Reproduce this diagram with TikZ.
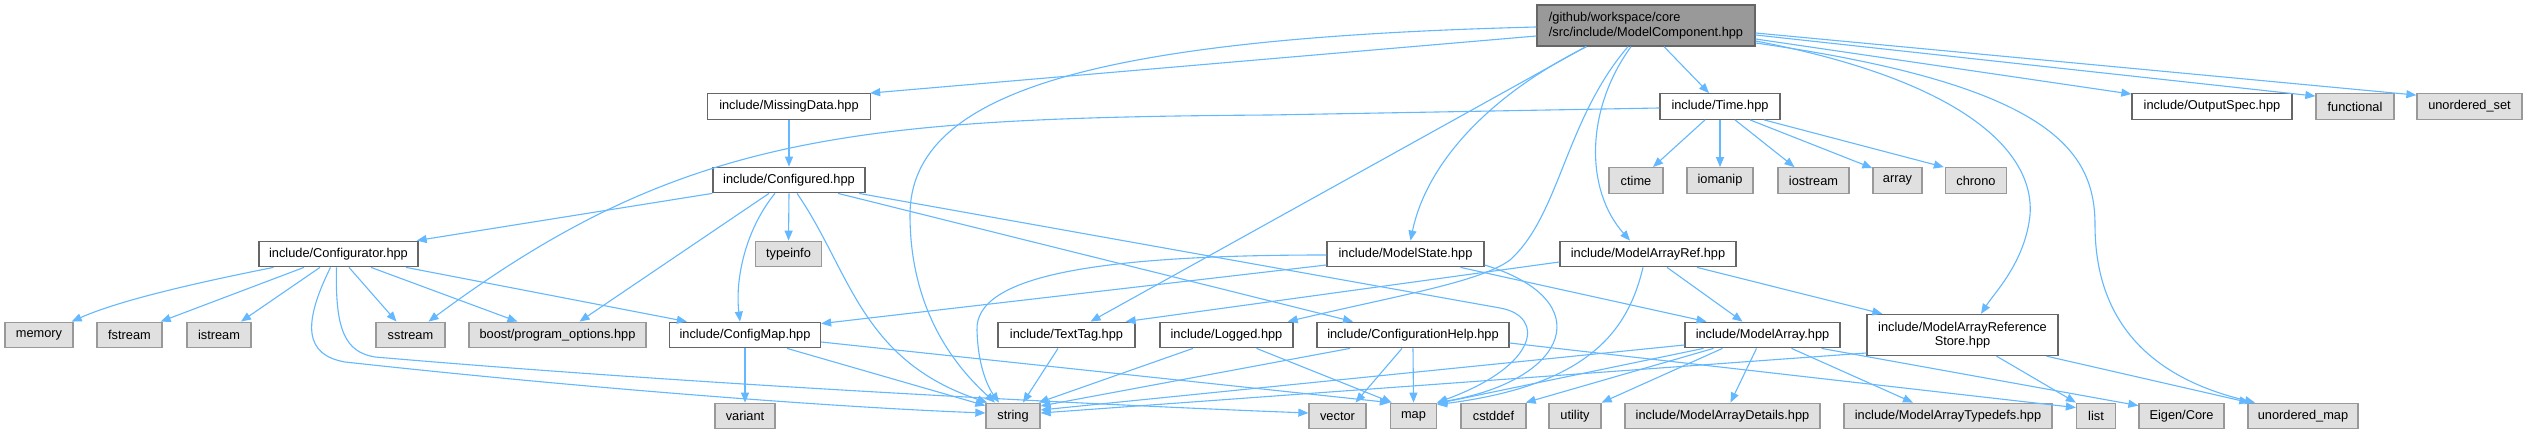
\documentclass[tikz,border=0pt]{standalone}
\usepackage{fontspec}
\newfontfamily\doxfont{Liberation Sans}
\usetikzlibrary{arrows.meta}
\definecolor{edgecol}{HTML}{63B8FF}
\definecolor{sysfill}{HTML}{E0E0E0}
\definecolor{sysborder}{HTML}{999999}
\definecolor{boxborder}{HTML}{666666}
\definecolor{rootfill}{HTML}{999999}
\begin{document}
\begin{tikzpicture}[x=1pt,y=-1pt,
  box/.style={draw=boxborder, fill=white, line width=1.3pt, minimum height=25.5pt, inner sep=0pt,
    font=\doxfont\fontsize{12.8pt}{14.5pt}\selectfont, text=black},
  sys/.style={box, draw=sysborder, fill=sysfill},
  rootbox/.style={box, fill=rootfill, minimum height=41pt, align=left},
  edge/.style={draw=edgecol, line width=1.1pt, -{Triangle[length=10pt,width=8pt]}}]
\fill[white] (0,0) rectangle (2527,435);
\useasboundingbox (0,0) rectangle (2527,435);
% row 1
\node[rootbox, minimum width=218pt] (root) at (1646,25.5) {/github/workspace/core\\/src/include/ModelComponent.hpp};
% row 2
\node[box, minimum width=163pt] (md) at (789,106.5) {include/MissingData.hpp};
\node[box, minimum width=120pt] (tm) at (1720,106.5) {include/Time.hpp};
\node[box, minimum width=160pt] (os) at (2212,106.5) {include/OutputSpec.hpp};
\node[sys, minimum width=78pt] (fn) at (2355,106.5) {functional};
\node[sys, minimum width=105pt] (us) at (2469.5,106.5) {unordered\_set};
% row 3
\node[box, minimum width=152pt] (cfd) at (789,180) {include/Configured.hpp};
\node[sys, minimum width=54pt] (ct) at (1636,180.5) {ctime};
\node[sys, minimum width=66pt] (iom) at (1720,180.5) {iomanip};
\node[sys, minimum width=71pt] (ios) at (1813.5,180.5) {iostream};
\node[sys, minimum width=49pt] (arr) at (1897.5,180.5) {array};
\node[sys, minimum width=61pt] (chr) at (1976,180.5) {chrono};
% row 4
\node[box, minimum width=159pt] (cfr) at (338.5,254) {include/Configurator.hpp};
\node[sys, minimum width=66pt] (ti) at (788.5,254) {typeinfo};
\node[box, minimum width=157pt] (ms) at (1405.5,254) {include/ModelState.hpp};
\node[box, minimum width=176pt] (mar) at (1648,254) {include/ModelArrayRef.hpp};
% row 5
\node[sys, minimum width=68pt] (mem) at (39,335) {memory};
\node[sys, minimum width=65pt] (fst) at (129.5,335) {fstream};
\node[sys, minimum width=64pt] (ist) at (219,335) {istream};
\node[sys, minimum width=69pt] (sst) at (410.5,335) {sstream};
\node[sys, minimum width=177pt] (bpo) at (557.5,335) {boost/program\_options.hpp};
\node[box, minimum width=151pt] (cm) at (745,335) {include/ConfigMap.hpp};
\node[box, minimum width=137pt] (tt) at (1066.5,335) {include/TextTag.hpp};
\node[box, minimum width=133pt] (lg) at (1226.5,335) {include/Logged.hpp};
\node[box, minimum width=192pt] (ch) at (1413,335) {include/ConfigurationHelp.hpp};
\node[box, minimum width=155pt] (ma) at (1762.5,335) {include/ModelArray.hpp};
\node[box, minimum width=191pt, minimum height=41pt, align=center] (mars) at (1962.5,335) {include/ModelArrayReference\\Store.hpp};
% row 6
\node[sys, minimum width=60pt] (var) at (745,416) {variant};
\node[sys, minimum width=54pt] (str) at (1013,416) {string};
\node[sys, minimum width=57pt] (vec) at (1337.5,416) {vector};
\node[sys, minimum width=46pt] (mp) at (1413.5,416) {map};
\node[sys, minimum width=65pt] (csd) at (1493.5,416) {cstddef};
\node[sys, minimum width=52pt] (utl) at (1575,416) {utility};
\node[sys, minimum width=195pt] (mad) at (1722.5,416) {include/ModelArrayDetails.hpp};
\node[sys, minimum width=208pt] (mat) at (1948,416) {include/ModelArrayTypedefs.hpp};
\node[sys, minimum width=39pt] (lst) at (2096,416) {list};
\node[sys, minimum width=85pt] (eig) at (2181.5,416) {Eigen/Core};
\node[sys, minimum width=110pt] (um) at (2303,416) {unordered\_map};
% root edges
\draw[edge] ([yshift=-10.5pt]root.west) -- ([xshift=-1pt]md.north east);
\draw[edge] ([yshift=-1.5pt]root.west) .. controls (1100,38) and (910,90) .. (910,215) .. controls (910,320) and (965,375) .. ([xshift=-18pt]str.north);
\draw[edge] ([xshift=18pt]root.south) -- ([xshift=-11pt]tm.north);
\draw[edge] ([xshift=-59.5pt]root.south) .. controls (1480,100) and (1425,170) .. ([xshift=5pt]ms.north);
\draw[edge] ([xshift=-60pt]root.south) -- ([xshift=24pt]tt.north);
\draw[edge] ([xshift=-15pt]root.south) .. controls (1585,110) and (1585,190) .. ([xshift=-18pt]mar.north);
\draw[edge] ([xshift=-18pt]root.south) .. controls (1565,120) and (1560,215) .. (1510,260) .. controls (1480,282) and (1400,295) .. ([xshift=-6pt]lg.north east);
\draw[edge] ([yshift=-7.5pt]root.east) -- ([yshift=-2pt]us.north west);
\draw[edge] ([yshift=-9.5pt]root.east) -- ([yshift=-3pt]fn.north west);
\draw[edge] ([yshift=-13.5pt]root.east) -- ([yshift=-1pt]os.north west);
\draw[edge] ([yshift=-15.5pt]root.east) .. controls (1960,80) and (2035,150) .. (2030,215) .. controls (2025,262) and (1995,292) .. ([xshift=18.5pt]mars.north);
\draw[edge] ([yshift=-17.5pt]root.east) .. controls (2050,85) and (2095,150) .. (2095,225) .. controls (2095,330) and (2160,380) .. ([xshift=-48pt]um.north);
% Time edges
\draw[edge] ([xshift=-15pt]tm.south) -- ([xshift=17pt]ct.north);
\draw[edge] (tm.south) -- (iom.north);
\draw[edge] ([xshift=15pt]tm.south) -- ([xshift=-19pt]ios.north);
\draw[edge] ([xshift=30pt]tm.south) -- ([yshift=-1pt]arr.north west);
\draw[edge] ([xshift=44pt]tm.south) -- ([xshift=-1pt]chr.north west);
\draw[edge] ([yshift=-1.5pt]tm.west) -- (1270,115) .. controls (850,118) and (680,135) .. ([xshift=18pt]sst.north);
% MissingData / Configured
\draw[edge] (md.south) -- (cfd.north);
\draw[edge] (cfd.south west) -- ([xshift=-2pt]cfr.north east);
\draw[edge] ([xshift=-20pt]cfd.south) -- ([xshift=22pt]bpo.north);
\draw[edge] ([xshift=-14pt]cfd.south) .. controls (745,230) and (735,280) .. ([xshift=-5pt]cm.north);
\draw[edge] (cfd.south) -- (ti.north);
\draw[edge] ([xshift=8pt]cfd.south) .. controls (850,270) and (860,360) .. ([xshift=2pt]str.north west);
\draw[edge] ([xshift=49pt]cfd.south) -- ([xshift=-60pt]ch.north);
\draw[edge] ([xshift=70pt]cfd.south) -- (1500,308) .. controls (1545,316) and (1540,365) .. (mp.north east);
% Configurator
\draw[edge] ([xshift=-65pt]cfr.south) .. controls (200,282) and (120,300) .. ([xshift=-2pt]mem.north east);
\draw[edge] ([xshift=-34.5pt]cfr.south) -- ([xshift=-2pt]fst.north east);
\draw[edge] ([xshift=-18.5pt]cfr.south) -- ([xshift=22pt]ist.north);
\draw[edge] ([xshift=10.5pt]cfr.south) -- ([xshift=-14pt]sst.north);
\draw[edge] ([xshift=32.5pt]cfr.south) -- ([xshift=-40pt]bpo.north);
\draw[edge] ([xshift=67.5pt]cfr.south) -- ([xshift=18pt]cm.north west);
\draw[edge] ([xshift=-8pt]cfr.south) .. controls (302,325) and (305,355) .. (345,362) .. controls (600,390) and (850,408) .. ([yshift=3pt]str.west);
\draw[edge] ([xshift=-2pt]cfr.south) .. controls (335,330) and (345,352) .. (375,357) .. controls (700,385) and (1100,405) .. ([yshift=3pt]vec.west);
% ConfigMap
\draw[edge] (cm.south) -- (var.north);
\draw[edge] ([xshift=42pt]cm.south) -- ([yshift=-3pt]str.north west);
\draw[edge] ([yshift=-7pt]cm.east) -- (mp.north west);
% TextTag, Logged
\draw[edge] ([xshift=-8.5pt]tt.south) -- ([xshift=10pt]str.north);
\draw[edge] ([xshift=-33.5pt]lg.south) -- ([xshift=-2pt]str.north east);
\draw[edge] ([xshift=30pt]lg.south) -- ([xshift=2pt]mp.north west);
% ConfigurationHelp
\draw[edge] ([xshift=-63pt]ch.south) -- ([yshift=10pt]str.east);
\draw[edge] ([xshift=-11pt]ch.south) -- ([xshift=18pt]vec.north);
\draw[edge] (ch.south) -- (mp.north);
\draw[edge] ([yshift=-8pt]ch.east) -- ([yshift=-5pt]lst.north west);
% ModelState
\draw[edge] ([yshift=-11pt]ms.west) -- ([yshift=-2pt]cm.north east);
\draw[edge] ([yshift=-1pt]ms.west) .. controls (1100,255) and (975,275) .. (977,330) .. controls (978,370) and (990,390) .. ([xshift=-14pt]str.north);
\draw[edge] ([xshift=55pt]ms.south) -- ([xshift=-56pt]ma.north);
\draw[edge] ([yshift=-11pt]ms.east) .. controls (1600,300) and (1570,380) .. (mp.north east);
% ModelArrayRef
\draw[edge] ([yshift=-8pt]mar.west) -- ([xshift=-10pt]tt.north east);
\draw[edge] ([xshift=19pt]mar.south) -- ([xshift=-20pt]ma.north);
\draw[edge] ([xshift=49pt]mar.south) -- ([xshift=16pt]mars.north west);
\draw[edge] ([xshift=-5pt]mar.south) .. controls (1628,330) and (1590,385) .. ([yshift=-2pt]mp.north east);
% ModelArray
\draw[edge] ([yshift=-10pt]ma.west) -- ([yshift=6pt]str.east);
\draw[edge] ([xshift=-59pt]ma.south) -- ([yshift=-1pt]mp.north east);
\draw[edge] ([xshift=-49pt]ma.south) -- ([xshift=-1pt]csd.north east);
\draw[edge] ([xshift=-40pt]ma.south) -- (utl.north east);
\draw[edge] ([xshift=-6pt]ma.south) -- ([xshift=8pt]mad.north);
\draw[edge] ([xshift=29pt]ma.south) -- ([xshift=-35pt]mat.north);
\draw[edge] ([xshift=59pt]ma.south) -- ([yshift=-3pt]eig.north west);
% ModelArrayReferenceStore
\draw[edge] ([xshift=34pt]mars.south) -- (lst.north west);
\draw[edge] ([xshift=84pt]mars.south) -- ([xshift=2pt]um.north west);
\draw[edge] ([yshift=-18pt]mars.west) -- ([yshift=3pt]str.east);
\end{tikzpicture}
\end{document}
